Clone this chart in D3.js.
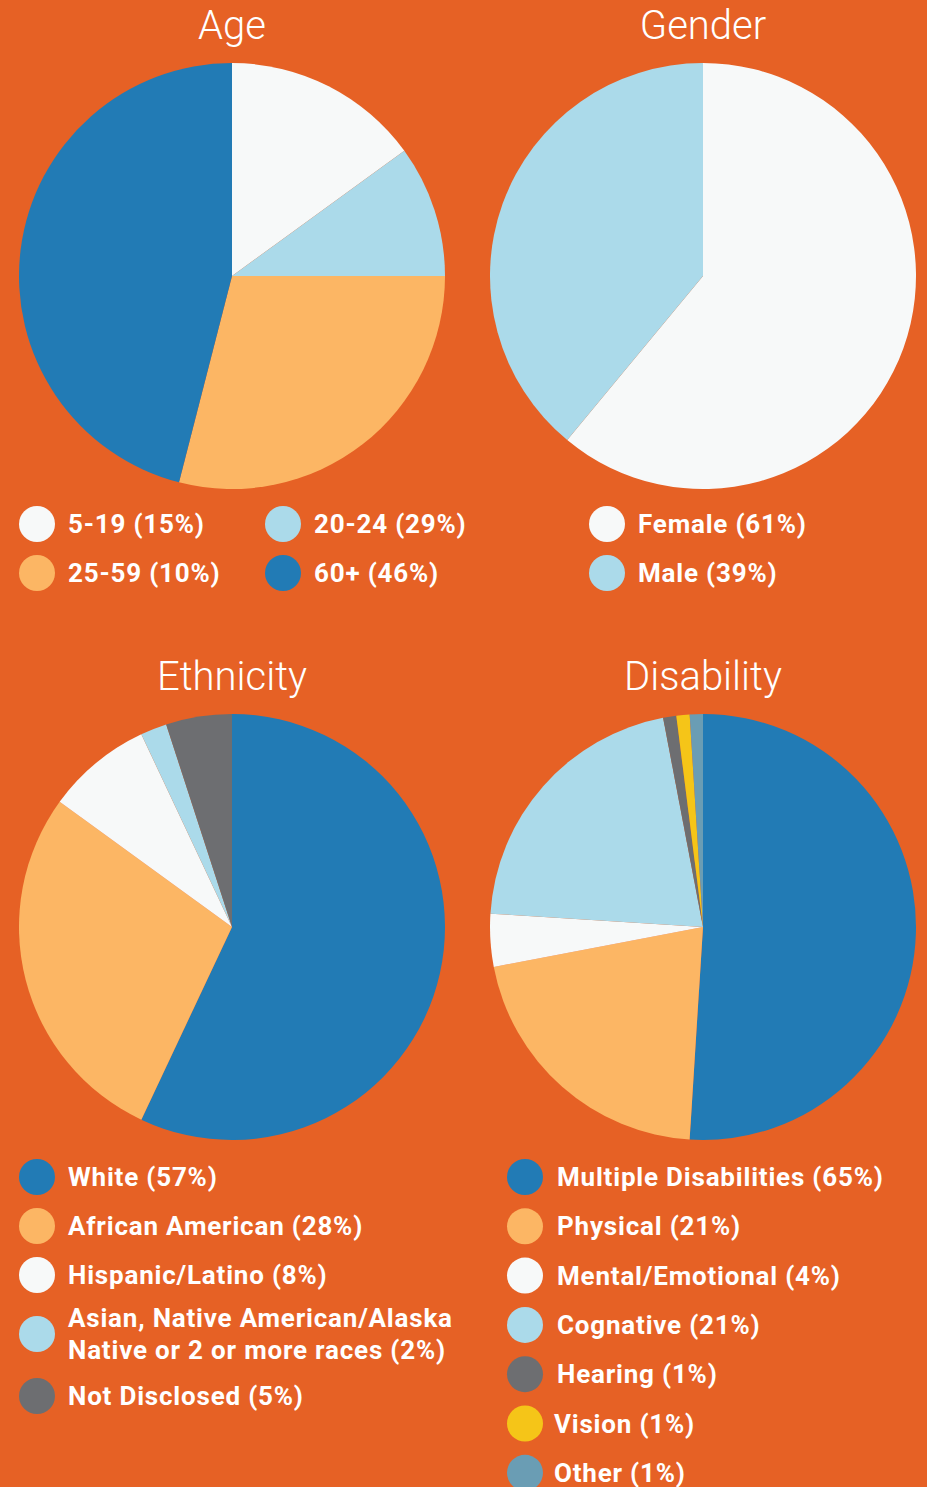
<!DOCTYPE html>
<html>
<head>
<meta charset="utf-8">
<script src="https://cdn.jsdelivr.net/npm/d3@7"></script>
<style>
  body { margin: 0; background: #E66125; }
  .title { font-family: Roboto, sans-serif; font-weight: 300; fill: #fff; }
  .legend text { font-family: Roboto, sans-serif; font-weight: 700; fill: #fff; letter-spacing: 0.8px; }
</style>
</head>
<body>
<div id="chart"></div>
<script>
// colours used by the slices
var darkBlue = '#227BB5', lightBlue = '#ABDAEA', peach = '#FCB664', offWhite = '#F7F9F9',
    grey = '#6D6E71', yellow = '#F5C518', steel = '#6A9DB4';

// Age (slice sizes are what the pie draws, legend text is as printed)
var ageLabels = ['5-19 (15%)', '20-24 (29%)', '25-59 (10%)', '60+ (46%)'];
var ageValues = [15, 10, 29, 46];
var ageColors = [offWhite, lightBlue, peach, darkBlue];

// Gender
var genderLabels = ['Female (61%)', 'Male (39%)'];
var genderValues = [61, 39];
var genderColors = [offWhite, lightBlue];

// Ethnicity
var ethLabels = ['White (57%)', 'African American (28%)', 'Hispanic/Latino (8%)',
    'Asian, Native American/Alaska|Native or 2 or more races (2%)', 'Not Disclosed (5%)'];
var ethValues = [57, 28, 8, 2, 5];
var ethColors = [darkBlue, peach, offWhite, lightBlue, grey];

// Disability
var disLabels = ['Multiple Disabilities (65%)', 'Physical (21%)', 'Mental/Emotional (4%)',
    'Cognative (21%)', 'Hearing (1%)', 'Vision (1%)', 'Other (1%)'];
var disValues = [51, 21, 4, 21, 1, 1, 1];
var disColors = [darkBlue, peach, offWhite, lightBlue, grey, yellow, steel];

var W = 927, H = 1487, R = 213;

var svg = d3.select('#chart').append('svg')
    .attr('width', W)
    .attr('height', H);

svg.append('rect').attr('width', W).attr('height', H).attr('fill', '#E66125');

var pie = d3.pie().sort(null).value(function(d){ return d; });
var arc = d3.arc().innerRadius(0).outerRadius(R);

function drawPie(cx, cy, title, values, colors){
    svg.append('text')
        .attr('class', 'title')
        .attr('x', cx)
        .attr('y', cy - 237)
        .attr('text-anchor', 'middle')
        .attr('font-size', 40)
        .text(title);

    svg.append('g')
        .attr('transform', 'translate(' + cx + ',' + cy + ')')
        .selectAll('path')
        .data(pie(values))
        .enter()
        .append('path')
        .attr('d', arc)
        .attr('fill', function(d, i){ return colors[i]; });
}

drawPie(232, 276, 'Age', ageValues, ageColors);
drawPie(703, 276, 'Gender', genderValues, genderColors);
drawPie(232, 927, 'Ethnicity', ethValues, ethColors);
drawPie(703, 927, 'Disability', disValues, disColors);

// legend: items = [{label, color, x, y}]
function drawLegend(items){
    var g = svg.append('g').attr('class', 'legend');
    var item = g.selectAll('g').data(items).enter().append('g')
        .attr('transform', function(d){ return 'translate(' + d.x + ',' + d.y + ')'; });
    item.append('circle').attr('r', 18).attr('fill', function(d){ return d.color; });
    item.each(function(d){
        var lines = d.label.split('|');
        var t = d3.select(this).append('text')
            .attr('x', d.dx || 31)
            .attr('font-size', 26);
        lines.forEach(function(l, i){
            t.append('tspan')
                .attr('x', d.dx || 31)
                .attr('y', 9 + (i - (lines.length - 1) / 2) * 32)
                .text(l);
        });
    });
}

drawLegend(ageLabels.map(function(l, i){
    return {label: l, color: ageColors[i], x: 37 + (i % 2) * 246, y: 524 + Math.floor(i / 2) * 49};
}));
drawLegend(genderLabels.map(function(l, i){
    return {label: l, color: genderColors[i], x: 607, y: 524 + i * 49};
}));
var ethY = [1177, 1226, 1275, 1334, 1396];
drawLegend(ethLabels.map(function(l, i){
    return {label: l, color: ethColors[i], x: 37, y: ethY[i]};
}));
drawLegend(disLabels.map(function(l, i){
    return {label: l, color: disColors[i], x: 525, y: 1177 + i * 49.3, dx: i >= 5 ? 29 : 32};
}));
</script>
</body>
</html>
